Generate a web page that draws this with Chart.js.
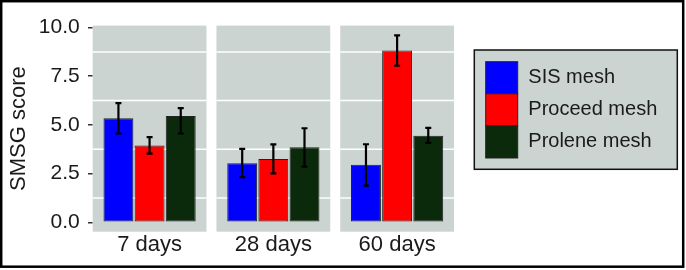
<!DOCTYPE html>
<html>
<head>
<meta charset="utf-8">
<script src="https://cdn.jsdelivr.net/npm/chart.js@4/dist/chart.umd.min.js"></script>
<style>
html, body { margin: 0; padding: 0; background: #fff; }
</style>
</head>
<body>
<canvas id="chart" width="686" height="270"></canvas>
<script>
const categories = ['7 days', '28 days', '60 days'];
const seriesNames = ['SIS mesh', 'Proceed mesh', 'Prolene mesh'];
const seriesColors = ['#0000ff', '#ff0000', '#0b2a0b'];

// bar means
const sisMesh = [5.34, 3.04, 2.96];
const proceedMesh = [3.95, 3.25, 8.82];
const proleneMesh = [5.46, 3.85, 4.45];

// error bar ends
const sisLow = [4.56, 2.32, 1.89];
const sisHigh = [6.12, 3.77, 4.01];
const proceedLow = [3.53, 2.51, 8.04];
const proceedHigh = [4.37, 4.00, 9.60];
const proleneLow = [4.56, 2.86, 4.08];
const proleneHigh = [5.86, 4.83, 4.85];

const yTicks = [0, 2.5, 5, 7.5, 10];
const gridLines = [1.25, 3.75, 6.25, 8.75];

const lows = [sisLow, proceedLow, proleneLow];
const highs = [sisHigh, proceedHigh, proleneHigh];
const PANEL_BG = '#cbd4d1';
const INK = '#1a1a1a';

Chart.defaults.font.family = "'Liberation Sans', Arial, Helvetica, sans-serif";

// grey facet panels with white grid lines
const panels = {
    id: 'panels',
    beforeDatasetsDraw(chart) {
        const { ctx, chartArea } = chart;
        const x = chart.scales.x, y = chart.scales.y;
        const w = (x.right - x.left) / categories.length;
        ctx.save();
        categories.forEach((c, i) => {
            const cx = x.getPixelForValue(i);
            const l = cx - w / 2 + 5, r = cx + w / 2 - 5;
            ctx.fillStyle = PANEL_BG;
            ctx.fillRect(l, chartArea.top, r - l, chartArea.bottom - chartArea.top);
            ctx.strokeStyle = '#ffffff';
            ctx.lineWidth = 1.5;
            gridLines.forEach(v => {
                const py = y.getPixelForValue(v);
                ctx.beginPath();
                ctx.moveTo(l, py);
                ctx.lineTo(r, py);
                ctx.stroke();
            });
        });
        ctx.restore();
    }
};

const errorBars = {
    id: 'errorBars',
    afterDatasetsDraw(chart) {
        const { ctx } = chart;
        const y = chart.scales.y;
        ctx.save();
        ctx.strokeStyle = '#000';
        ctx.lineWidth = 2.2;
        chart.data.datasets.forEach((ds, d) => {
            chart.getDatasetMeta(d).data.forEach((bar, i) => {
                const y1 = y.getPixelForValue(lows[d][i]);
                const y2 = y.getPixelForValue(highs[d][i]);
                ctx.beginPath();
                ctx.moveTo(bar.x, y1); ctx.lineTo(bar.x, y2);
                ctx.moveTo(bar.x - 3, y1); ctx.lineTo(bar.x + 3, y1);
                ctx.moveTo(bar.x - 3, y2); ctx.lineTo(bar.x + 3, y2);
                ctx.stroke();
            });
        });
        ctx.restore();
    }
};

// boxed legend on the right plus outer frame
const boxLegend = {
    id: 'boxLegend',
    afterDraw(chart) {
        const { ctx } = chart;
        ctx.save();
        ctx.fillStyle = PANEL_BG;
        ctx.fillRect(474.3, 50, 203, 119.3);
        ctx.strokeStyle = '#111';
        ctx.lineWidth = 1.5;
        ctx.strokeRect(474.3, 50, 203, 119.3);
        ctx.font = "20px 'Liberation Sans', Arial, sans-serif";
        ctx.textBaseline = 'middle';
        chart.data.datasets.forEach((ds, i) => {
            const top = 61.7 + i * 32.1;
            ctx.fillStyle = ds.backgroundColor;
            ctx.fillRect(485.7, top, 32, 32.1);
            ctx.strokeStyle = '#222';
            ctx.lineWidth = 1;
            ctx.strokeRect(485.7, top, 32, 32.1);
            ctx.fillStyle = INK;
            ctx.fillText(ds.label, 528.3, top + 16);
        });
        ctx.strokeStyle = '#000';
        ctx.lineWidth = 2.5;
        ctx.strokeRect(1.2, 1.2, 682, 265.5);
        ctx.restore();
    }
};

const values = [sisMesh, proceedMesh, proleneMesh];

new Chart(document.getElementById('chart'), {
    type: 'bar',
    data: {
        labels: categories,
        datasets: seriesNames.map((name, i) => ({
            label: name,
            data: values[i],
            backgroundColor: seriesColors[i],
            borderColor: '#222',
            borderWidth: 1,
            borderSkipped: false,
            barPercentage: 0.96,
            categoryPercentage: 0.755
        }))
    },
    options: {
        responsive: false,
        animation: false,
        devicePixelRatio: 1,
        layout: { padding: { top: 13.3, right: 227, bottom: 0, left: 0 } },
        plugins: {
            legend: { display: false },
            tooltip: { enabled: false }
        },
        scales: {
            x: {
                afterFit: s => { s.height = 38.3; },
                grid: { display: false, drawTicks: false },
                border: { display: false },
                ticks: { padding: 0, color: INK, font: { size: 22 } }
            },
            y: {
                min: -0.48,
                max: 10.1,
                afterBuildTicks: s => { s.ticks = yTicks.map(v => ({ value: v })); },
                afterFit: s => { s.width = 87.7; },
                grid: { drawOnChartArea: false, tickLength: -5, color: '#333', lineWidth: 1.5 },
                border: { display: false },
                ticks: { padding: 13, color: INK, font: { size: 21 }, callback: v => v.toFixed(1) },
                title: {
                    display: true,
                    text: 'SMSG score',
                    color: INK,
                    font: { size: 22 },
                    padding: { top: 6, bottom: 0 }
                }
            }
        }
    },
    plugins: [panels, errorBars, boxLegend]
});
</script>
</body>
</html>
